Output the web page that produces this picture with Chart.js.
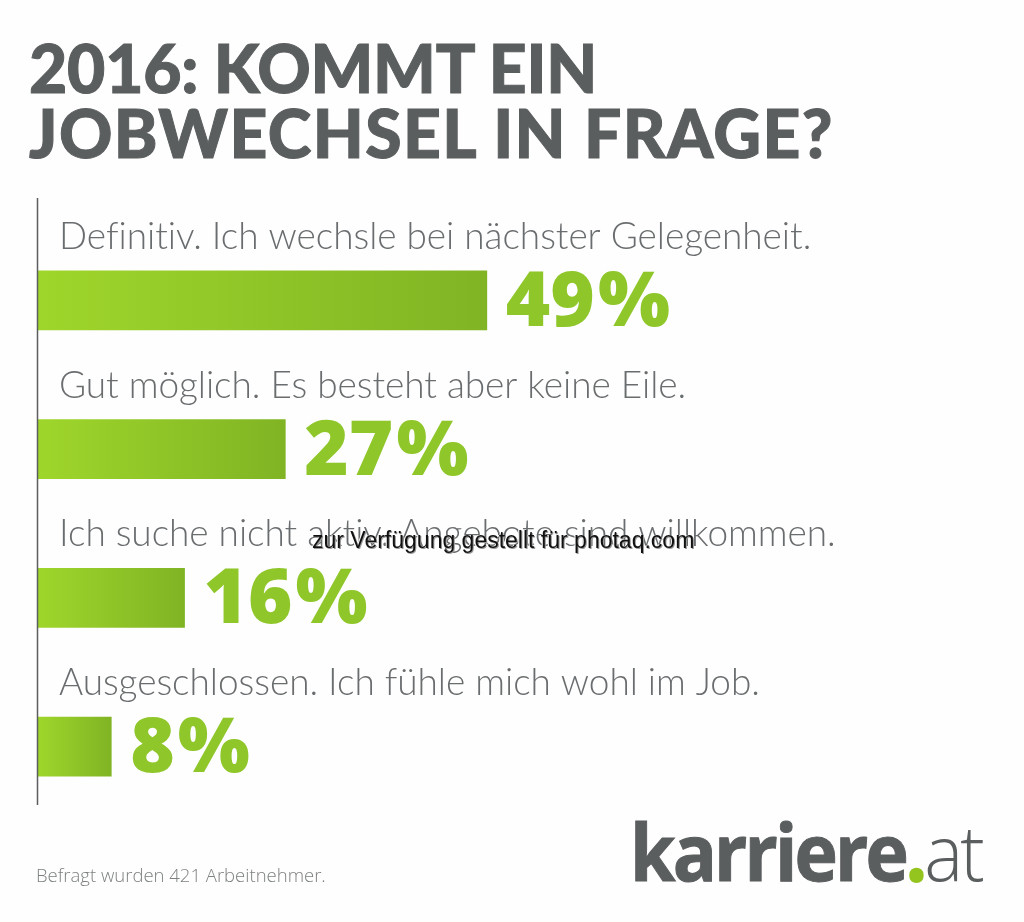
<!DOCTYPE html>
<html lang="de">
<head>
<meta charset="utf-8">
<title>2016: Kommt ein Jobwechsel in Frage?</title>
<script src="https://cdn.jsdelivr.net/npm/chart.js@4"></script>
<style>
    html, body { margin: 0; padding: 0; background: #fefefe; }
    #wrap { position: relative; width: 1024px; height: 922px; overflow: hidden; }
    #myChart { position: absolute; left: 0; top: 0; }
    .txt { position: absolute; white-space: nowrap; }
    #title { left: 29px; top: 35px; font: 900 66px/65px Lato, sans-serif; color: #5b5e5f; -webkit-text-stroke: 1px #5b5e5f; }
    #title .l1 { letter-spacing: -0.2px; }
    #title .l2 { letter-spacing: 1.4px; }
    #note { left: 36px; top: 864px; font: 300 18.5px/22px "Open Sans", sans-serif; color: #7d8082; }
    #logo { left: 630px; top: 801px; font: 700 78px/100px "Open Sans", sans-serif; color: #5b5e5f; letter-spacing: -3px; -webkit-text-stroke: 1px #5b5e5f; transform-origin: left top; transform: scaleX(0.94); }
    #logo .dot { color: #94c51f; -webkit-text-stroke: 2px #94c51f; }
    #logo .at { font-weight: 300; -webkit-text-stroke: 0; }
    #mark { left: 312px; top: 528px; font: 400 23px/24px "Liberation Sans", sans-serif; color: #111; text-shadow: 1px 1px 0 #999, -1px 0 0 #fff; }
</style>
</head>
<body>
<div id="wrap">
    <canvas id="myChart" width="1024" height="922"></canvas>
    <div class="txt" id="title"><span class="l1">2016: KOMMT EIN</span><br><span class="l2">JOBWECHSEL IN FRAGE?</span></div>
    <div class="txt" id="note">Befragt wurden 421 Arbeitnehmer.</div>
    <div class="txt" id="logo">karriere<span class="dot">.</span><span class="at">at</span></div>
    <div class="txt" id="mark">zur Verfügung gestellt für photaq.com</div>
</div>
<script>
"use strict";

// chart data
const categories = [
    'Definitiv. Ich wechsle bei nächster Gelegenheit.',
    'Gut möglich. Es besteht aber keine Eile.',
    'Ich suche nicht aktiv. Angebote sind willkommen.',
    'Ausgeschlossen. Ich fühle mich wohl im Job.'
];
const shares = [49, 27, 16, 8];

const darkGrey = '#5b5e5f';
const labelGrey = '#6a6d6f';
const valueGreen = '#8fc72a';

// every bar gets its own left to right gradient
function barGradient(context) {
    const chart = context.chart;
    if (!chart.chartArea || context.raw === undefined) {
        return valueGreen; // layout not done yet
    }
    const x0 = chart.scales.x.getPixelForValue(0);
    const x1 = chart.scales.x.getPixelForValue(context.raw);
    if (!Number.isFinite(x0) || !Number.isFinite(x1)) {
        return valueGreen;
    }
    const gradient = chart.ctx.createLinearGradient(x0, 0, x1, 0);
    gradient.addColorStop(0, '#9fd62b');
    gradient.addColorStop(1, '#80b424');
    return gradient;
}

// category text above each bar, value text right of it, vertical axis line
const barTextPlugin = {
    id: 'barText',
    afterDatasetsDraw(chart) {
        const ctx = chart.ctx;
        const bars = chart.getDatasetMeta(0).data;
        ctx.save();
        ctx.textAlign = 'left';
        ctx.textBaseline = 'alphabetic';
        bars.forEach(function (bar, i) {
            const barTop = bar.y - bar.height / 2;
            const barBottom = bar.y + bar.height / 2;

            // tiny spacing switches off the "ti" ligature of Lato
            ctx.letterSpacing = '-0.05px';
            ctx.fillStyle = labelGrey;
            ctx.font = '300 37px Lato, sans-serif';
            ctx.fillText(categories[i], bar.base + 21, barTop - 22);
            ctx.letterSpacing = '0px';

            // the percent sign sits a little away from the digits
            const digits = String(shares[i]);
            const valueX = bar.x + 19;
            ctx.fillStyle = valueGreen;
            ctx.font = '800 76px "Open Sans", sans-serif';
            ctx.fillText(digits, valueX, barBottom - 4);
            ctx.fillText('%', valueX + ctx.measureText(digits).width + 3, barBottom - 4);
        });

        // axis line runs a bit past the first row and stops short of the last
        ctx.strokeStyle = darkGrey;
        ctx.lineWidth = 1.5;
        ctx.beginPath();
        ctx.moveTo(chart.chartArea.left - 0.5, chart.chartArea.top - 28);
        ctx.lineTo(chart.chartArea.left - 0.5, chart.chartArea.bottom - 16);
        ctx.stroke();
        ctx.restore();
    }
};

const ctx = document.getElementById('myChart');
const myChart = new Chart(ctx, {
    type: 'bar',
    data: {
        labels: categories,
        datasets: [
            {
                data: shares,
                backgroundColor: barGradient,
                barThickness: 59
            }
        ]
    },
    options: {
        indexAxis: 'y',
        responsive: false,
        animation: false,
        devicePixelRatio: 1,
        layout: {
            padding: { left: 38, right: 70, top: 226, bottom: 101 }
        },
        plugins: {
            legend: { display: false },
            tooltip: { enabled: false }
        },
        scales: {
            x: { display: false, min: 0, max: 100 },
            y: { display: false }
        }
    },
    plugins: [barTextPlugin]
});
</script>
</body>
</html>
